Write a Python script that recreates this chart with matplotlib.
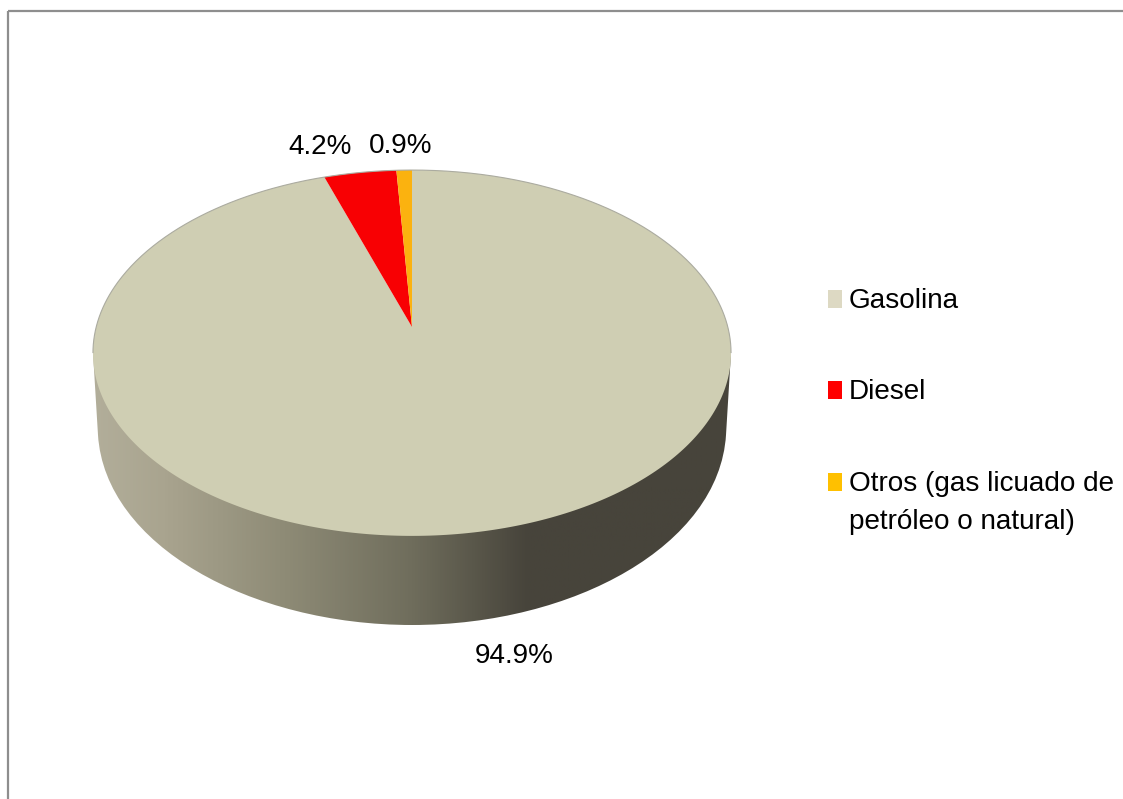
import numpy as np
import matplotlib
matplotlib.use('Agg')
import matplotlib.pyplot as plt
from matplotlib.colors import LinearSegmentedColormap
from matplotlib.patches import PathPatch, Polygon, Rectangle
from matplotlib.path import Path

labels = ['Gasolina', 'Diesel', 'Otros (gas licuado de\npetróleo o natural)']
values = [94.9, 4.2, 0.9]
value_labels = ['94.9%', '4.2%', '0.9%']
colors = ['#CFCEB3', '#F80003', '#FBB20F']
legend_colors = ['#DDD9C3', '#FF0000', '#FFC000']

plt.rcParams['font.family'] = ['Liberation Sans', 'DejaVu Sans']
FS = 20.1

# perspective of the pie top, fitted on the picture
CX, APEX_Y, KX = 412.0, 327.0, 315.8
PA, PC = -132.8, 0.142


def project(theta):
    u, v = np.cos(theta), np.sin(theta)
    w = PC * v + 1
    return CX + KX * u / w, (PA * v + APEX_Y) / w


fig = plt.figure(figsize=(11.23, 7.99), dpi=100, facecolor='white')
ax = fig.add_axes([0, 0, 1, 1])
ax.set_xlim(0, 1123)
ax.set_ylim(799, 0)
ax.axis('off')

# chart frame, runs off the right and bottom of the picture
ax.add_patch(Rectangle((8, 11), 1130, 800, fc='none', ec='#8E8E8E', lw=1.6))

# side wall: straight down a bit, then round to the bottom and back up
verts = [(93, 353), (98, 435),
         (105, 545), (250, 625), (412, 625),
         (574, 625), (719, 545), (726, 435),
         (731, 353), (93, 353)]
codes = [Path.MOVETO, Path.LINETO,
         Path.CURVE4, Path.CURVE4, Path.CURVE4,
         Path.CURVE4, Path.CURVE4, Path.CURVE4,
         Path.LINETO, Path.CLOSEPOLY]
side = PathPatch(Path(verts, codes), fc='none', ec='none')
ax.add_patch(side)
stops = [(0.0, '#B2AE9A'), (0.11, '#A9A48F'), (0.30, '#8E8B76'), (0.50, '#6F6D5C'),
         (0.68, '#47443B'), (1.0, '#47443B')]
cmap = LinearSegmentedColormap.from_list('wall', stops)
im = ax.imshow(np.linspace(0, 1, 512)[None, :], cmap=cmap, aspect='auto',
               extent=[93, 732, 640, 340], zorder=1)
im.set_clip_path(side)
ax.set_xlim(0, 1123)
ax.set_ylim(799, 0)

# top face, slices run clockwise from twelve o'clock
start = 0.0
fractions = np.array(values) / sum(values)
for frac, col in zip(fractions, colors):
    a0 = np.pi / 2 - 2 * np.pi * start
    a1 = np.pi / 2 - 2 * np.pi * (start + frac)
    th = np.linspace(a0, a1, 400)
    px, py = project(th)
    ax.add_patch(Polygon(np.c_[np.r_[CX, px], np.r_[APEX_Y, py]], closed=True,
                         fc=col, ec='none', zorder=2))
    start += frac

# thin rim only over the upper half
t = np.linspace(-0.14, np.pi + 0.14, 400)
xt, yt = project(t)
ax.plot(xt, yt, color='#ABABA0', lw=0.8, zorder=3)

ax.text(514, 656, value_labels[0], fontsize=FS, ha='center', va='center', color='black')
ax.text(320, 147, value_labels[1], fontsize=FS, ha='center', va='center', color='black')
ax.text(401, 146, value_labels[2], fontsize=FS, ha='center', va='center', color='black')

# legend
legend_y = [299, 390, 482]
for lab, col, y in zip(labels, legend_colors, legend_y):
    ax.add_patch(Rectangle((828, y - 9), 14, 17.5, fc=col, ec='none'))
    ax.text(849, y - 11, lab, fontsize=FS, ha='left', va='top', color='black', linespacing=1.6)

fig.savefig('out.png', dpi=100)
